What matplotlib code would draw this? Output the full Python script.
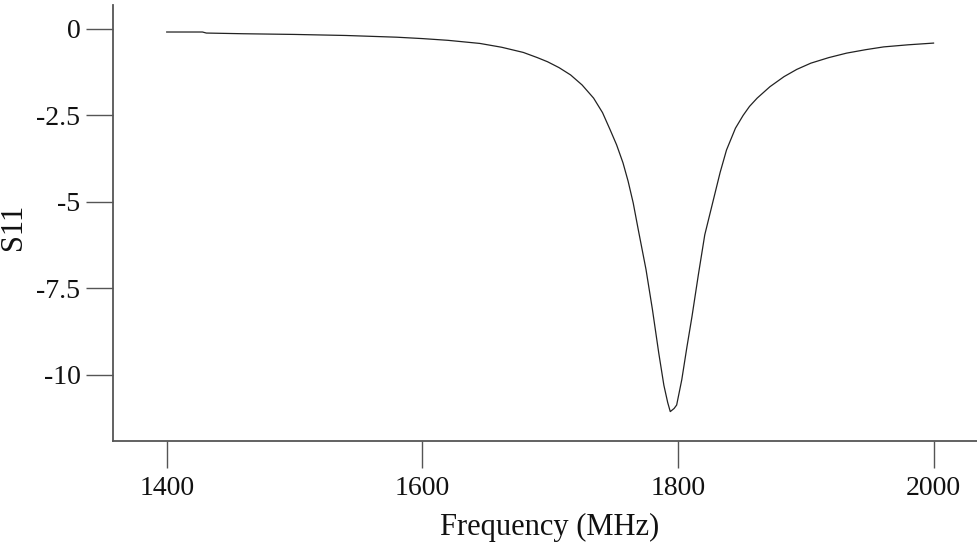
# S11 vs frequency plot
import matplotlib.pyplot as plt

freq = [1400, 1428, 1431, 1460, 1500, 1540, 1580, 1600, 1620, 1645, 1662, 1679,
        1690, 1698, 1707, 1716, 1725, 1734, 1741, 1747, 1752, 1757, 1761, 1765,
        1769, 1775, 1780, 1785, 1789, 1792, 1794, 1797, 1799, 1803, 1807, 1811,
        1816, 1821, 1825, 1828, 1833, 1838, 1845, 1851, 1856, 1862, 1872, 1883,
        1893, 1904, 1918, 1932, 1947, 1961, 1980, 2000]
s11 = [-0.09, -0.09, -0.12, -0.14, -0.16, -0.19, -0.24, -0.28, -0.33, -0.42, -0.53, -0.68,
       -0.83, -0.95, -1.12, -1.33, -1.62, -2.0, -2.42, -2.92, -3.35, -3.87, -4.4, -5.03,
       -5.81, -6.95, -8.1, -9.37, -10.3, -10.8, -11.06, -10.97, -10.87, -10.14, -9.2, -8.31,
       -7.1, -5.95, -5.35, -4.9, -4.15, -3.5, -2.87, -2.5, -2.24, -2.0, -1.67, -1.38,
       -1.17, -0.99, -0.83, -0.7, -0.6, -0.52, -0.46, -0.41]
xticks = [1400, 1600, 1800, 2000]
yticks = [0, -2.5, -5, -7.5, -10]
ytick_labels = ["0", "-2.5", "-5", "-7.5", "-10"]

plt.rcParams['font.family'] = ['Liberation Serif', 'DejaVu Serif']

fig = plt.figure(figsize=(9.77, 5.46), dpi=100)
ax = fig.add_axes([0.1157, 0.1923, 0.8843, 0.7985])
ax.plot(freq, s11, color='#222222', linewidth=0.9)

ax.set_xlim(1358, 2034)
ax.set_ylim(-11.91, 0.69)
ax.set_xticks(xticks)
ax.set_yticks(yticks)
ax.set_yticklabels(ytick_labels)

for side in ['top', 'right']:
    ax.spines[side].set_visible(False)
for side in ['left', 'bottom']:
    ax.spines[side].set_color('#555555')
    ax.spines[side].set_linewidth(1.3)

ax.tick_params(axis='both', direction='out', length=19.5, width=1.0, color='#555555',
               labelsize=20, labelcolor='#111111')
ax.tick_params(axis='x', pad=6)
ax.tick_params(axis='y', pad=4)

ax.set_xlabel("Frequency (MHz)", fontsize=22, color='#111111')
ax.set_ylabel("S11", fontsize=22, color='#111111')
ax.xaxis.set_label_coords(0.505, -0.165)
ax.yaxis.set_label_coords(-0.098, 0.49)

fig.savefig("out.png", dpi=100)
